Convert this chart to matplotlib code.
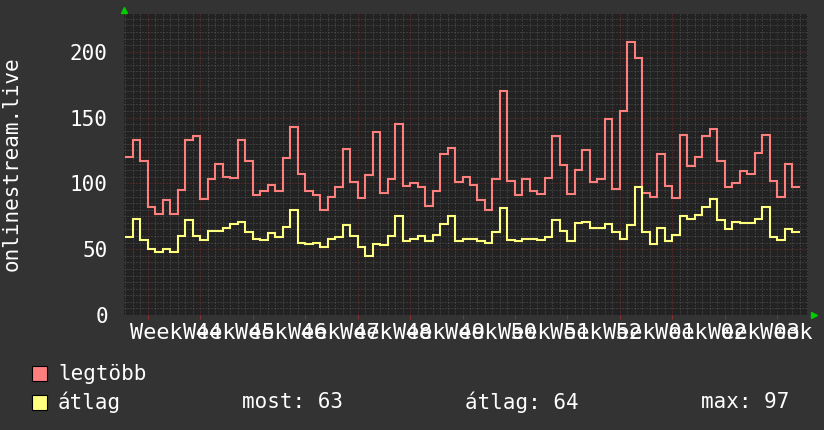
import numpy as np
import matplotlib.pyplot as plt
from matplotlib.patches import Rectangle
from matplotlib.ticker import MultipleLocator

plt.rcParams['font.family'] = ['DejaVu Sans Mono', 'DejaVu Sans']

# napi értékek; 0. nap = a 44. hét hétfője
days = np.arange(-3, 87)
legtobb = [120, 133, 117, 82, 77, 87, 77, 95, 133, 136,
           88, 103, 115, 105, 104, 133, 117, 91, 94, 99,
           94, 119, 143, 107, 94, 91, 80, 90, 97, 126,
           101, 89, 106, 139, 93, 103, 145, 98, 100, 97,
           83, 94, 122, 127, 101, 105, 99, 87, 80, 103,
           170, 102, 91, 103, 94, 92, 104, 136, 114, 92,
           110, 125, 101, 103, 149, 96, 155, 207, 195, 93,
           90, 122, 98, 89, 137, 113, 120, 136, 141, 117,
           97, 100, 109, 107, 123, 137, 102, 90, 115, 97]
atlag = [59, 73, 57, 50, 48, 50, 48, 60, 72, 60,
         57, 64, 64, 66, 69, 71, 63, 58, 57, 62,
         59, 67, 80, 55, 54, 55, 52, 58, 59, 68,
         60, 52, 45, 54, 53, 60, 75, 56, 58, 60,
         56, 61, 69, 75, 56, 58, 58, 56, 55, 63,
         81, 57, 56, 58, 58, 57, 59, 72, 64, 56,
         70, 71, 66, 66, 69, 63, 58, 68, 97, 63,
         54, 66, 56, 61, 75, 73, 76, 82, 88, 72,
         65, 71, 70, 70, 73, 82, 59, 57, 65, 63]
week_labels = ['Week 44', 'Week 45', 'Week 46', 'Week 47', 'Week 48',
               'Week 49', 'Week 50', 'Week 51', 'Week 52', 'Week 01',
               'Week 02', 'Week 03', 'Week 04']
y_ticks = [0, 50, 100, 150, 200]

W, H = 824, 430
bg = '#333333'
fs = 15

fig = plt.figure(figsize=(W / 100, H / 100), dpi=100, facecolor=bg)
ax = fig.add_axes([124.5 / W, 115 / H, (808 - 124.5) / W, (315 - 13.5) / H])
ax.set_facecolor('#222222')
for s in ax.spines.values():
    s.set_visible(False)

ax.set_xlim(-3.07, 88.07)
ax.set_ylim(0, 229)

ax.xaxis.set_major_locator(MultipleLocator(7))
ax.xaxis.set_minor_locator(MultipleLocator(1))
ax.yaxis.set_major_locator(MultipleLocator(50))
ax.yaxis.set_minor_locator(MultipleLocator(5))
ax.grid(which='minor', color='#555555', linestyle=(0, (1, 2)), linewidth=0.72,
        snap=True, zorder=0)
ax.grid(which='major', color='#7a2e2e', linestyle=(0, (1, 2)), linewidth=0.72,
        snap=True, zorder=0.5)
ax.set_axisbelow(True)

ax.tick_params(which='both', length=0, labelbottom=False)
ax.tick_params(axis='x', which='major', length=3, width=0.8, color='#8c3030')
ax.set_yticks(y_ticks)
ax.set_yticklabels([str(v) for v in y_ticks], fontsize=fs, color='white')
ax.tick_params(axis='y', pad=12)

edges = np.append(days, days[-1] + 1)
ax.stairs(legtobb, edges, baseline=None, color='#ff7f7f', linewidth=1.5)
ax.stairs(atlag, edges, baseline=None, color='#ffff7f', linewidth=1.5)

# heti feliratok, egymásra csúszva, mint az eredetin
for i, lab in enumerate(week_labels):
    ax.text(7 * i - 2.33, -24 / 301.5, lab, transform=ax.get_xaxis_transform(),
            ha='left', va='baseline', fontsize=15.75, color='white')

# zöld nyilak a tengelyek végén
ax.plot([0], [1.01], marker='^', ms=4.5, color='#00cc00', transform=ax.transAxes, clip_on=False)
ax.plot([1.009], [0], marker='>', ms=4.5, color='#00cc00', transform=ax.transAxes, clip_on=False)

fig.text(12 / W, 1 - 164 / H, 'onlinestream.live', rotation=90,
         ha='center', va='center', fontsize=fs, color='white')

# jelmagyarázat
def px(x, y):
    return x / W, 1 - y / H

fig.add_artist(Rectangle(px(32, 381), 15 / W, 15 / H, transform=fig.transFigure,
                         facecolor='#ff7f7f', edgecolor='black', linewidth=0.8))
fig.add_artist(Rectangle(px(32, 409.5), 15 / W, 15 / H, transform=fig.transFigure,
                         facecolor='#ffff7f', edgecolor='black', linewidth=0.8))
fig.text(*px(58, 373.5), 'legtöbb', ha='left', va='center', fontsize=fs, color='white')
fig.text(*px(58, 402), 'átlag', ha='left', va='center', fontsize=fs, color='white')
fig.text(*px(242, 402), 'most: 63', ha='left', va='center', fontsize=fs, color='white')
fig.text(*px(465, 402), 'átlag: 64', ha='left', va='center', fontsize=fs, color='white')
fig.text(*px(701, 402), 'max: 97', ha='left', va='center', fontsize=fs, color='white')

fig.savefig('out.png', dpi=100, facecolor=bg)
